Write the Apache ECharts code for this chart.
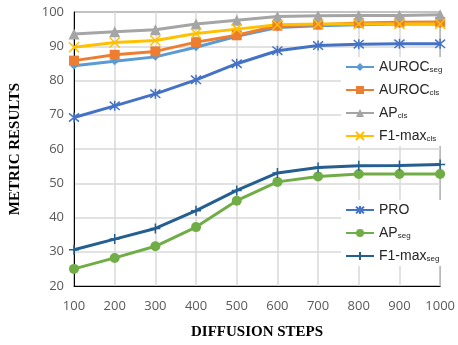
<!DOCTYPE html>
<html><head><meta charset="utf-8">
<script src="https://cdn.jsdelivr.net/npm/echarts@6/dist/echarts.min.js"></script>
<style>html,body{margin:0;padding:0;background:#fff}#c{width:458px;height:345px}</style>
</head><body><div id="c"></div>
<script>
const steps = ['100','200','300','400','500','600','700','800','900','1000'];
const aurocSeg = [84.3, 85.6, 86.9, 89.7, 92.9, 95.5, 96.0, 96.3, 96.5, 96.5];
const aurocCls = [85.8, 87.5, 88.5, 91.2, 93.2, 96.0, 96.3, 96.8, 97.0, 97.1];
const apCls    = [93.6, 94.2, 94.8, 96.5, 97.6, 98.7, 98.9, 99.0, 99.0, 99.2];
const f1Cls    = [89.7, 91.1, 91.7, 93.7, 95.0, 96.3, 96.5, 96.5, 96.5, 96.5];
const pro      = [69.2, 72.6, 76.1, 80.2, 84.9, 88.7, 90.2, 90.6, 90.7, 90.7];
const apSeg    = [25.0, 28.2, 31.6, 37.2, 44.9, 50.4, 52.0, 52.7, 52.7, 52.7];
const f1Seg    = [30.6, 33.7, 36.8, 42.0, 47.9, 53.0, 54.6, 55.1, 55.2, 55.5];
const yTicks = {min: 20, max: 100, interval: 10};

const X = 'path://M0,0L10,10M10,0L0,10';
const STAR = 'path://M0,0L10,10M10,0L0,10M5,-1L5,11';
const PLUS = 'path://M5,0L5,10M0,5L10,5';

function mk(name, data, color, symbol, size, stroke) {
  return {
    name, type: 'line', data, symbol, symbolSize: size,
    lineStyle: {color, width: 3}, itemStyle: {color, borderColor: color, borderWidth: stroke ? 1.5 : 0},
    emphasis: {disabled: true}, z: 2
  };
}
const series = [
  mk('AUROC_seg', aurocSeg, '#5B9BD5', 'diamond', 8),
  mk('AUROC_cls', aurocCls, '#ED7D31', 'rect', 10),
  mk('AP_cls', apCls, '#A5A5A5', 'triangle', 11),
  mk('F1-max_cls', f1Cls, '#FFC000', X, 10, true),
  mk('PRO', pro, '#4472C4', STAR, 10, true),
  mk('AP_seg', apSeg, '#70AD47', 'circle', 10),
  mk('F1-max_seg', f1Seg, '#255E91', PLUS, 10, true)
];
function fmt(n) {
  const i = n.indexOf('_');
  if (i < 0) return '{m|' + n + '}';
  return '{m|' + n.slice(0, i) + '}{s|' + n.slice(i + 1) + '}';
}
const rich = {
  m: {fontFamily: 'Liberation Sans', fontSize: 14, color: '#262626'},
  s: {fontFamily: 'Liberation Sans', fontSize: 8, color: '#262626', padding: [6, 0, 0, 0]}
};
const legBase = {
  orient: 'vertical', left: 341, itemWidth: 28, itemHeight: 10, itemGap: 9,
  backgroundColor: '#fff', padding: [3, 4, 3, 4], formatter: fmt,
  textStyle: {rich}, selectedMode: false
};
const chart = echarts.init(document.getElementById('c'), null, {renderer: 'canvas'});
chart.setOption({
  animation: false,
  backgroundColor: '#fff',
  grid: {left: 72, right: 15, top: 12, bottom: 59, show: true, borderColor: '#000', borderWidth: 1},
  legend: [
    Object.assign({}, legBase, {top: 57, data: ['AUROC_seg', 'AUROC_cls', 'AP_cls', 'F1-max_cls']}),
    Object.assign({}, legBase, {top: 200, data: ['PRO', 'AP_seg', 'F1-max_seg']})
  ],
  xAxis: {
    type: 'category', data: steps, boundaryGap: false,
    name: 'DIFFUSION STEPS', nameLocation: 'middle', nameGap: 39,
    nameTextStyle: {fontFamily: 'Liberation Serif', fontWeight: 'bold', fontSize: 15, color: '#000'},
    axisLine: {lineStyle: {color: '#000', width: 1}}, axisTick: {show: false},
    axisLabel: {fontFamily: 'Open Sans', fontSize: 13, color: '#595959', margin: 14},
    splitLine: {show: true, lineStyle: {color: '#d9d9d9', width: 1.5}}
  },
  yAxis: {
    type: 'value', min: yTicks.min, max: yTicks.max, interval: yTicks.interval,
    name: 'METRIC RESULTS', nameLocation: 'middle', nameGap: 51, nameRotate: 90,
    nameTextStyle: {fontFamily: 'Liberation Serif', fontWeight: 'bold', fontSize: 15, color: '#000'},
    axisLine: {show: true, lineStyle: {color: '#000', width: 1}}, axisTick: {show: false},
    axisLabel: {fontFamily: 'Open Sans', fontSize: 13, color: '#595959', margin: 10},
    splitLine: {show: true, lineStyle: {color: '#d9d9d9', width: 1.5}}
  },
  series
});
</script></body></html>
